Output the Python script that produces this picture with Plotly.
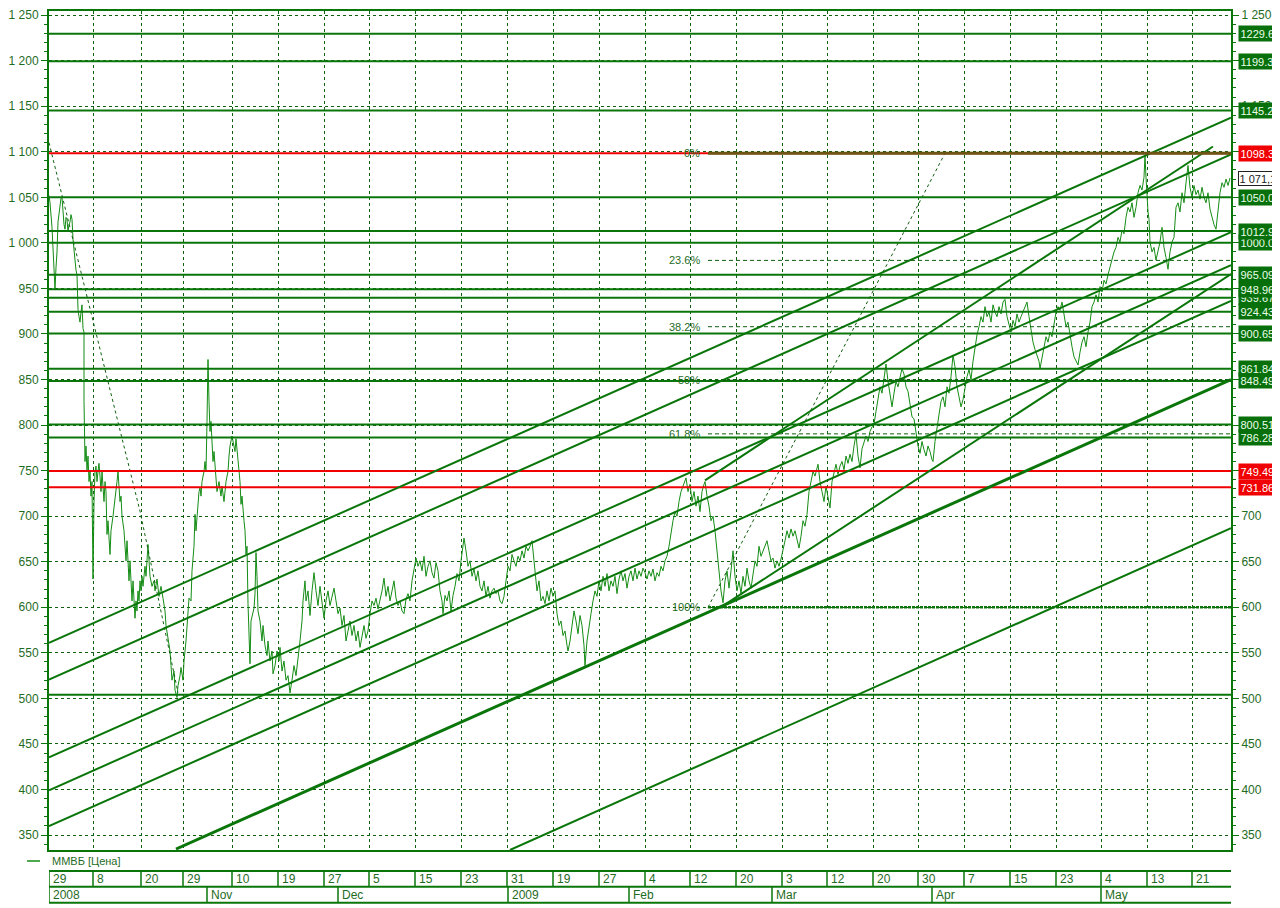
import plotly.graph_objects as go

# ---------------- data ----------------
tick_bars = [0, 44, 92, 134, 183, 229, 275, 320, 366, 412, 458, 504, 550, 596, 641,
             687, 733, 778, 824, 869, 915, 961, 1007, 1052, 1098, 1143]
tick_labels = ["29", "8", "20", "29", "10", "19", "27", "5", "15", "23", "31", "19", "27",
               "4", "12", "20", "3", "12", "20", "30", "7", "15", "23", "4", "13", "21"]
month_bars = [0, 158, 289, 459, 580, 723, 883, 1052]
month_labels = ["2008", "Nov", "Dec", "2009", "Feb", "Mar", "Apr", "May"]
last_bar = 1182

# (bar index, price)
price_points = [
    (0, 1052), (1, 1044), (3, 1017), (5, 979), (6, 949), (7, 973), (8, 990), (9, 1023), (11, 1041),
    (12, 1049), (13, 1050), (14, 1034), (15, 1020), (16, 1015), (17, 1028), (18, 1026), (19, 1012),
    (20, 1020), (21, 1023), (22, 1031), (23, 1026), (24, 1004), (25, 990), (26, 976), (27, 970),
    (28, 965), (29, 927), (30, 919), (31, 913), (32, 924), (33, 932), (34, 906), (35, 902), (35, 826),
    (36, 760), (37, 777), (38, 749), (39, 766), (40, 738), (41, 749), (42, 722), (43, 738), (44, 631),
    (45, 716), (46, 749), (47, 755), (48, 738), (49, 749), (50, 758), (51, 744), (52, 727), (53, 749),
    (54, 733), (55, 716), (56, 738), (57, 727), (58, 680), (59, 695), (61, 658), (62, 684), (64, 700),
    (66, 716), (68, 738), (69, 749), (70, 733), (71, 716), (72, 722), (73, 700), (75, 684), (76, 667),
    (77, 651), (78, 673), (79, 645), (80, 629), (81, 651), (82, 618), (83, 607), (84, 629), (85, 602),
    (86, 588), (87, 607), (88, 596), (89, 618), (90, 607), (91, 629), (92, 618), (93, 634), (94, 623),
    (96, 645), (97, 634), (99, 669), (100, 651), (101, 634), (103, 623), (105, 629), (106, 618),
    (108, 631), (110, 612), (112, 623), (114, 610), (116, 596), (117, 580), (119, 567), (121, 552),
    (122, 536), (123, 520), (125, 530), (126, 509), (128, 501), (129, 514), (131, 525), (132, 534),
    (134, 520), (135, 541), (137, 563), (139, 596), (140, 610), (142, 607), (143, 640), (145, 667),
    (146, 702), (147, 684), (149, 716), (150, 727), (151, 731), (152, 722), (153, 738), (155, 749),
    (156, 760), (157, 749), (158, 804), (159, 872), (160, 826), (161, 793), (162, 804), (163, 777),
    (164, 760), (165, 771), (167, 744), (168, 727), (170, 738), (172, 722), (173, 733), (175, 716),
    (177, 738), (179, 749), (180, 766), (181, 777), (183, 788), (184, 782), (186, 771), (187, 785),
    (189, 760), (190, 749), (191, 738), (192, 713), (193, 722), (195, 695), (196, 684), (197, 658),
    (198, 667), (199, 604), (200, 574), (201, 538), (202, 585), (203, 591), (205, 599), (206, 615),
    (207, 660), (208, 634), (209, 596), (211, 585), (213, 563), (214, 580), (216, 558), (218, 547),
    (219, 563), (221, 541), (223, 552), (224, 527), (226, 536), (228, 552), (230, 541), (231, 556),
    (233, 530), (235, 541), (237, 520), (239, 525), (241, 506), (243, 520), (245, 536), (247, 525),
    (249, 541), (251, 563), (253, 585), (254, 607), (256, 629), (257, 607), (259, 618), (261, 591),
    (263, 618), (265, 638), (267, 618), (269, 602), (271, 623), (273, 607), (275, 588), (277, 607),
    (279, 618), (281, 602), (283, 613), (285, 621), (287, 607), (289, 593), (291, 599), (293, 580),
    (295, 591), (297, 563), (299, 574), (301, 585), (303, 569), (305, 580), (307, 563), (309, 574),
    (311, 556), (313, 569), (315, 580), (317, 566), (319, 574), (321, 593), (323, 607), (325, 602),
    (327, 610), (329, 598), (331, 607), (333, 618), (335, 632), (337, 612), (339, 623), (341, 607),
    (343, 618), (345, 629), (347, 610), (349, 602), (351, 607), (353, 596), (355, 593), (357, 609),
    (359, 615), (361, 607), (363, 629), (365, 643), (367, 654), (369, 645), (371, 651), (373, 640),
    (375, 656), (377, 634), (379, 645), (381, 651), (383, 638), (385, 632), (387, 649), (389, 640),
    (391, 618), (393, 607), (394, 593), (396, 613), (398, 607), (400, 618), (402, 596), (404, 613),
    (406, 623), (408, 637), (410, 629), (412, 651), (414, 667), (415, 676), (417, 662), (419, 645),
    (421, 651), (423, 634), (425, 642), (427, 629), (429, 640), (431, 623), (433, 618), (435, 629),
    (437, 612), (439, 623), (441, 610), (443, 618), (445, 621), (447, 615), (449, 618), (451, 607),
    (453, 604), (455, 612), (457, 629), (459, 645), (461, 640), (463, 658), (465, 651), (467, 645),
    (469, 656), (471, 651), (473, 662), (475, 654), (477, 667), (479, 662), (481, 667), (483, 673),
    (485, 651), (486, 637), (488, 618), (490, 629), (492, 607), (494, 612), (496, 604), (498, 618),
    (500, 607), (502, 621), (504, 612), (506, 618), (508, 593), (510, 580), (512, 585), (514, 569),
    (516, 574), (518, 558), (519, 552), (521, 563), (523, 580), (525, 596), (527, 585), (529, 571),
    (531, 591), (533, 580), (535, 558), (536, 536), (538, 563), (540, 580), (542, 593), (544, 607),
    (546, 618), (548, 612), (550, 629), (552, 618), (554, 634), (556, 623), (558, 637), (560, 618),
    (562, 629), (564, 623), (566, 634), (568, 615), (570, 631), (572, 640), (574, 629), (576, 637),
    (578, 621), (580, 634), (582, 640), (584, 629), (586, 643), (588, 631), (590, 640), (592, 634),
    (594, 643), (596, 638), (598, 631), (600, 640), (602, 634), (604, 642), (606, 629), (608, 638),
    (610, 634), (612, 645), (614, 640), (616, 651), (618, 656), (620, 667), (622, 684), (624, 695),
    (626, 705), (628, 700), (630, 716), (632, 727), (634, 733), (636, 738), (637, 742), (639, 727),
    (641, 735), (643, 716), (645, 727), (647, 711), (649, 722), (651, 705), (653, 727), (655, 735),
    (656, 738), (658, 722), (660, 711), (662, 695), (664, 700), (666, 684), (668, 662), (670, 640),
    (672, 618), (674, 605), (676, 629), (678, 640), (680, 621), (682, 640), (684, 662), (686, 634),
    (688, 618), (690, 629), (692, 615), (694, 634), (696, 623), (698, 643), (700, 629), (702, 621),
    (704, 634), (706, 651), (708, 645), (710, 667), (712, 656), (714, 662), (716, 667), (718, 673),
    (720, 662), (722, 651), (724, 654), (726, 643), (728, 651), (730, 645), (732, 653), (734, 662),
    (736, 673), (738, 684), (740, 676), (742, 686), (744, 678), (746, 684), (748, 673), (750, 665),
    (752, 678), (754, 695), (756, 689), (758, 702), (760, 727), (762, 738), (764, 749), (766, 744),
    (768, 753), (769, 757), (771, 738), (773, 727), (775, 716), (777, 733), (779, 722), (781, 709),
    (783, 738), (785, 749), (787, 757), (789, 746), (791, 755), (793, 760), (795, 751), (797, 766),
    (799, 758), (801, 768), (803, 760), (805, 777), (807, 790), (809, 766), (811, 753), (813, 774),
    (815, 782), (817, 788), (819, 782), (821, 793), (823, 798), (825, 801), (827, 815), (829, 831),
    (831, 842), (833, 835), (835, 853), (837, 867), (839, 848), (841, 831), (843, 820), (845, 835),
    (847, 848), (849, 842), (851, 853), (853, 862), (855, 856), (857, 842), (859, 837), (861, 820),
    (863, 809), (865, 807), (867, 791), (869, 777), (871, 769), (873, 782), (875, 773), (877, 766),
    (879, 777), (881, 771), (883, 762), (884, 760), (886, 782), (888, 798), (890, 815), (892, 826),
    (894, 831), (896, 820), (898, 842), (900, 835), (902, 853), (904, 877), (906, 864), (908, 842),
    (910, 831), (912, 820), (914, 828), (916, 842), (918, 853), (920, 861), (922, 850), (924, 870),
    (926, 886), (928, 899), (930, 908), (932, 919), (934, 913), (936, 930), (938, 919), (940, 924),
    (942, 913), (944, 932), (946, 924), (948, 919), (950, 930), (952, 922), (954, 935), (956, 938),
    (958, 919), (960, 911), (962, 902), (964, 915), (966, 908), (968, 922), (970, 913), (972, 919),
    (974, 924), (976, 930), (978, 935), (980, 919), (982, 902), (984, 891), (986, 883), (988, 875),
    (990, 870), (991, 862), (993, 875), (995, 886), (997, 897), (999, 891), (1001, 902), (1003, 897),
    (1005, 913), (1007, 924), (1009, 930), (1011, 926), (1013, 935), (1015, 919), (1017, 908),
    (1019, 913), (1021, 897), (1023, 886), (1025, 875), (1027, 870), (1029, 866), (1031, 880),
    (1033, 891), (1035, 897), (1037, 886), (1039, 902), (1041, 913), (1043, 930), (1045, 935),
    (1047, 943), (1049, 935), (1051, 952), (1053, 946), (1055, 959), (1057, 955), (1059, 965),
    (1061, 973), (1063, 984), (1065, 990), (1067, 995), (1069, 1006), (1071, 1001), (1073, 1014),
    (1075, 1010), (1077, 1028), (1079, 1039), (1081, 1034), (1083, 1044), (1085, 1028), (1087, 1039),
    (1089, 1055), (1091, 1063), (1093, 1058), (1095, 1072), (1096, 1096), (1097, 1072), (1098, 1050),
    (1099, 1034), (1100, 1026), (1101, 1001), (1103, 990), (1105, 995), (1107, 981), (1109, 990),
    (1111, 1001), (1113, 1017), (1115, 995), (1117, 984), (1119, 971), (1121, 990), (1123, 1001),
    (1125, 1006), (1127, 1039), (1129, 1044), (1131, 1034), (1133, 1055), (1135, 1044), (1137, 1066),
    (1139, 1085), (1141, 1061), (1143, 1050), (1145, 1063), (1147, 1053), (1149, 1058), (1151, 1048),
    (1153, 1061), (1155, 1050), (1157, 1044), (1159, 1055), (1161, 1037), (1163, 1028), (1165, 1020),
    (1167, 1015), (1169, 1039), (1171, 1055), (1173, 1066), (1175, 1061), (1177, 1070), (1179, 1063),
    (1181, 1071.18),
]
price_bars = [p[0] for p in price_points]
price_vals = [p[1] for p in price_points]
last_price = 1071.18
last_price_text = "1 071,18"

green_levels = [504.0, 786.288, 800.510, 848.493, 861.841, 900.651, 924.436, 939.674, 948.963,
                965.092, 1000.061, 1012.968, 1050.008, 1145.203, 1199.339, 1229.655]
green_labels = [None, "786.2889", "800.5100", "848.4939", "861.8411", "900.6511", "924.4360",
                "939.6740", "948.9631", "965.0920", "1000.061", "1012.968", "1050.008",
                "1145.203", "1199.339", "1229.655"]
red_levels = [731.868, 749.498, 1098.370]
red_labels = ["731.8680", "749.4989", "1098.370"]

fib_high = 1098.37
fib_low = 600.0
fib_start_bar = 659
fib_ratios = [0.0, 0.236, 0.382, 0.5, 0.618, 1.0]
fib_texts = ["0%", "23.6%", "38.2%", "50%", "61.8%", "100%"]

# channel / trend lines: (bar0, value0, bar1, value1)
channel_lines = [
    (0, 561.1, 1182, 1137.5),
    (0, 520.6, 1182, 1097.0),
    (0, 435.3, 1182, 1011.7),
    (0, 399.2, 1182, 975.6),
    (0, 359.8, 1182, 936.3),
    (461, 333.6, 1182, 686.9),
    (674, 601.6, 1182, 965.8),
    (656, 739.4, 1164, 1105.8),
]
main_support = (127, 334.7, 1182, 849.9)
fib_trend = [(659, 600.0), (896, 1098.37)]
left_trend = [(0, 1110.0), (91, 705.5), (129, 506.4)]

y_min, y_max = 333.6, 1254.5

# ---------------- styling ----------------
FONT = "Liberation Sans, Arial, sans-serif"
FS = 11
GRID = "#0f5f0f"
LINE = "#0a760a"
PRICE = "#148c14"
TEXT = "#1f6b1f"
BOXG = "#08700a"
RED = "#f00000"

fig = go.Figure()

# price
fig.add_trace(go.Scatter(x=price_bars, y=price_vals, mode="lines",
                         line=dict(color=PRICE, width=1), hoverinfo="skip"))

# left dashed trend (thin)
fig.add_trace(go.Scatter(x=[p[0] for p in left_trend], y=[p[1] for p in left_trend], mode="lines",
                         line=dict(color=GRID, width=1, dash="3px,3px"), hoverinfo="skip"))
# fib trend dashed
fig.add_trace(go.Scatter(x=[p[0] for p in fib_trend], y=[p[1] for p in fib_trend], mode="lines",
                         line=dict(color=GRID, width=1, dash="3px,3px"), hoverinfo="skip"))

# horizontal green levels
hx, hy = [], []
for v in green_levels:
    hx += [0, last_bar, None]
    hy += [v, v, None]
fig.add_trace(go.Scatter(x=hx, y=hy, mode="lines", line=dict(color=LINE, width=2), hoverinfo="skip"))

# red levels
rx, ry = [], []
for v in red_levels:
    rx += [0, last_bar, None]
    ry += [v, v, None]
fig.add_trace(go.Scatter(x=rx, y=ry, mode="lines", line=dict(color=RED, width=2), hoverinfo="skip"))

# channel lines
cx, cy = [], []
for b0, v0, b1, v1 in channel_lines:
    cx += [b0, b1, None]
    cy += [v0, v1, None]
fig.add_trace(go.Scatter(x=cx, y=cy, mode="lines", line=dict(color=LINE, width=2), hoverinfo="skip"))
fig.add_trace(go.Scatter(x=[main_support[0], main_support[2]], y=[main_support[1], main_support[3]],
                         mode="lines", line=dict(color=LINE, width=3), hoverinfo="skip"))

# fibonacci levels
fib_levels = [fib_high - r * (fib_high - fib_low) for r in fib_ratios]
for r, lv in zip(fib_ratios, fib_levels):
    if r == 0.0:
        fig.add_trace(go.Scatter(x=[fib_start_bar, last_bar], y=[lv, lv], mode="lines",
                                 line=dict(color="#6d5514", width=3), hoverinfo="skip"))
    elif r == 1.0:
        fig.add_trace(go.Scatter(x=[fib_start_bar, last_bar], y=[lv, lv], mode="lines",
                                 line=dict(color=LINE, width=2.5, dash="3px,1px"), hoverinfo="skip"))
    else:
        fig.add_trace(go.Scatter(x=[fib_start_bar, last_bar], y=[lv, lv], mode="lines",
                                 line=dict(color=GRID, width=1, dash="4px,3px"), hoverinfo="skip"))

# invisible trace for right axis
fig.add_trace(go.Scatter(x=[0], y=[700], yaxis="y2", mode="markers",
                         marker=dict(opacity=0), hoverinfo="skip"))

annotations = []
# fib texts
for t, lv in zip(fib_texts, fib_levels):
    annotations.append(dict(x=fib_start_bar - 6, y=lv, xref="x", yref="y", text=t, showarrow=False,
                            xanchor="right", yanchor="middle",
                            font=dict(family=FONT, size=FS, color=TEXT)))

# right-side level labels (ascending so higher ones sit on top)
label_items = []
for v, t in zip(green_levels, green_labels):
    if t is not None:
        label_items.append((v, t, BOXG, "#eaffea"))
for v, t in zip(red_levels, red_labels):
    label_items.append((v, t, RED, "#ffffff"))
label_items.sort(key=lambda it: it[0])
for v, t, bg, fc in label_items:
    annotations.append(dict(x=1.0057, y=v, xref="paper", yref="y", text=t, showarrow=False,
                            xanchor="left", yanchor="middle", bgcolor=bg, borderpad=1.5,
                            font=dict(family=FONT, size=FS, color=fc)))
annotations.append(dict(x=1.0057, y=last_price, xref="paper", yref="y", text=last_price_text,
                        showarrow=False, xanchor="left", yanchor="middle", bgcolor="#ffffff",
                        bordercolor="#202020", borderwidth=1, borderpad=0.5,
                        font=dict(family=FONT, size=FS, color="#202020")))

# date rows (paper coordinates below the plot area)
ROW1_TOP, ROW_MID, ROW2_BOT = -0.0249, -0.0439, -0.0629
ROW1_C, ROW2_C = -0.0344, -0.0534
shapes = []
for yy in (ROW1_TOP, ROW_MID, ROW2_BOT):
    shapes.append(dict(type="line", xref="x", yref="paper", x0=0, x1=last_bar, y0=yy, y1=yy,
                       line=dict(color=LINE, width=2)))
for b in tick_bars:
    shapes.append(dict(type="line", xref="x", yref="paper", x0=b, x1=b, y0=ROW1_TOP, y1=ROW_MID,
                       line=dict(color=LINE, width=1.5)))
for b in month_bars:
    shapes.append(dict(type="line", xref="x", yref="paper", x0=b, x1=b, y0=ROW_MID, y1=ROW2_BOT,
                       line=dict(color=LINE, width=1.5)))
for b, t in zip(tick_bars, tick_labels):
    annotations.append(dict(x=b, y=ROW1_C, xref="x", yref="paper", text=t, showarrow=False,
                            xanchor="left", yanchor="middle", xshift=2,
                            font=dict(family=FONT, size=FS + 1, color=TEXT)))
for b, t in zip(month_bars, month_labels):
    annotations.append(dict(x=b, y=ROW2_C, xref="x", yref="paper", text=t, showarrow=False,
                            xanchor="left", yanchor="middle", xshift=2,
                            font=dict(family=FONT, size=FS + 1, color=TEXT)))

# legend
shapes.append(dict(type="line", xref="paper", yref="paper", x0=-0.0186, x1=-0.0076,
                   y0=-0.0131, y1=-0.0131, line=dict(color=PRICE, width=1.5)))
annotations.append(dict(x=0.0008, y=-0.0131, xref="paper", yref="paper", text="ММВБ [Цена]",
                        showarrow=False, xanchor="left", yanchor="middle",
                        font=dict(family=FONT, size=FS, color=TEXT)))

yticks = list(range(350, 1251, 50))
yaxis_common = dict(range=[y_min, y_max], tickvals=yticks, tickformat=",.0f",
                    ticks="outside", ticklen=6, tickcolor=LINE, tickwidth=1,
                    showline=True, linecolor=LINE, linewidth=2,
                    ticklabeloverflow="allow",
                    tickfont=dict(family=FONT, size=FS + 1, color=TEXT),
                    minor=dict(dtick=10, tick0=350, ticks="outside", ticklen=3,
                               tickcolor=LINE, showgrid=False),
                    zeroline=False, fixedrange=True)

# the page body adds an 8px margin, so the figure is 8px smaller than the window
fig.update_layout(
    width=1272, height=900,
    margin=dict(l=41, r=49, t=0, b=58),
    paper_bgcolor="white", plot_bgcolor="white",
    showlegend=False,
    separators=", ",
    xaxis=dict(range=[0, last_bar], tickvals=tick_bars, showticklabels=False, ticks="",
               showgrid=True, gridcolor=GRID, griddash="3px,3px", gridwidth=1,
               showline=True, linecolor=LINE, linewidth=2, mirror=True, zeroline=False),
    yaxis=dict(**yaxis_common, side="left", showgrid=True, gridcolor=GRID,
               griddash="3px,3px", gridwidth=1),
    yaxis2=dict(**yaxis_common, side="right", overlaying="y", showgrid=False),
    annotations=annotations,
    shapes=shapes,
)

fig.write_html("out.html")
